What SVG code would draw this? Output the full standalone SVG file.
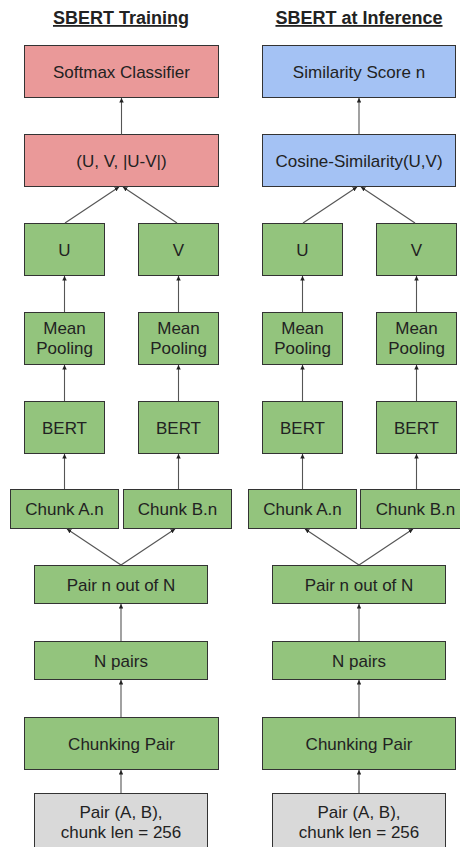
<svg xmlns="http://www.w3.org/2000/svg" width="460" height="847" viewBox="0 0 460 847">
<style>
.t{font-family:"Liberation Sans",Arial,sans-serif;font-size:17px;fill:#222;text-anchor:middle}
.h{font-family:"Liberation Sans",Arial,sans-serif;font-size:18px;font-weight:bold;fill:#222;text-anchor:middle;text-decoration:underline}
.r{fill:#ea9999;stroke:#333;stroke-width:1}
.b{fill:#a4c2f4;stroke:#333;stroke-width:1}
.g{fill:#93c47d;stroke:#333;stroke-width:1}
.y{fill:#d9d9d9;stroke:#333;stroke-width:1}
.c line{stroke:#555;stroke-width:1.1;marker-end:url(#a)}
</style>
<defs>
<marker id="a" viewBox="0 0 10 10" refX="10" refY="5" markerWidth="4.5" markerHeight="4.5" markerUnits="userSpaceOnUse" orient="auto">
<path d="M0,0 L10,5 L0,10 z" fill="#222"/>
</marker>
</defs>
<rect width="460" height="847" fill="#fff"/>
<text class="h" x="121" y="24">SBERT Training</text>
<text class="h" x="359" y="24">SBERT at Inference</text>

<g id="L_softmax"><rect class="r" x="24.5" y="45.5" width="194" height="52"/><text class="t" x="121.5" y="78">Softmax Classifier</text></g>
<g id="L_concat"><rect class="r" x="24.5" y="134.5" width="194" height="52"/><text class="t" x="121.5" y="167">(U, V, |U-V|)</text></g>
<g id="L_U"><rect class="g" x="24.5" y="223.5" width="80" height="52"/><text class="t" x="64.5" y="256">U</text></g>
<g id="L_V"><rect class="g" x="138.5" y="223.5" width="80" height="52"/><text class="t" x="178.5" y="256">V</text></g>
<g id="L_MPA"><rect class="g" x="24.5" y="312.5" width="80" height="52"/><text class="t" x="64.5" y="334">Mean</text><text class="t" x="64.5" y="354">Pooling</text></g>
<g id="L_MPB"><rect class="g" x="138.5" y="312.5" width="80" height="52"/><text class="t" x="178.5" y="334">Mean</text><text class="t" x="178.5" y="354">Pooling</text></g>
<g id="L_BERTA"><rect class="g" x="24.5" y="401.5" width="80" height="52"/><text class="t" x="64.5" y="434">BERT</text></g>
<g id="L_BERTB"><rect class="g" x="138.5" y="401.5" width="80" height="52"/><text class="t" x="178.5" y="434">BERT</text></g>
<g id="L_CA"><rect class="g" x="10.5" y="489.5" width="108" height="39"/><text class="t" x="64.5" y="515">Chunk A.n</text></g>
<g id="L_CB"><rect class="g" x="123.5" y="489.5" width="108" height="39"/><text class="t" x="177.5" y="515">Chunk B.n</text></g>
<g id="L_pairn"><rect class="g" x="34.5" y="565.5" width="173" height="38"/><text class="t" x="121" y="591">Pair n out of N</text></g>
<g id="L_npairs"><rect class="g" x="34.5" y="641.5" width="173" height="38"/><text class="t" x="121" y="667">N pairs</text></g>
<g id="L_chunking"><rect class="g" x="24.5" y="717.5" width="194" height="52"/><text class="t" x="121.5" y="750">Chunking Pair</text></g>
<g id="L_input"><rect class="y" x="34.5" y="793.5" width="173" height="60"/><text class="t" x="121" y="818">Pair (A, B),</text><text class="t" x="121" y="838">chunk len = 256</text></g>

<g id="R_sim"><rect class="b" x="262.5" y="45.5" width="193" height="52"/><text class="t" x="359" y="78">Similarity Score n</text></g>
<g id="R_cos"><rect class="b" x="262.5" y="134.5" width="193" height="52"/><text class="t" x="359" y="167">Cosine-Similarity(U,V)</text></g>
<g id="R_U"><rect class="g" x="262.5" y="223.5" width="80" height="52"/><text class="t" x="302.5" y="256">U</text></g>
<g id="R_V"><rect class="g" x="376.5" y="223.5" width="80" height="52"/><text class="t" x="416.5" y="256">V</text></g>
<g id="R_MPA"><rect class="g" x="262.5" y="312.5" width="80" height="52"/><text class="t" x="302.5" y="334">Mean</text><text class="t" x="302.5" y="354">Pooling</text></g>
<g id="R_MPB"><rect class="g" x="376.5" y="312.5" width="80" height="52"/><text class="t" x="416.5" y="334">Mean</text><text class="t" x="416.5" y="354">Pooling</text></g>
<g id="R_BERTA"><rect class="g" x="262.5" y="401.5" width="80" height="52"/><text class="t" x="302.5" y="434">BERT</text></g>
<g id="R_BERTB"><rect class="g" x="376.5" y="401.5" width="80" height="52"/><text class="t" x="416.5" y="434">BERT</text></g>
<g id="R_CA"><rect class="g" x="248.5" y="489.5" width="108" height="39"/><text class="t" x="302.5" y="515">Chunk A.n</text></g>
<g id="R_CB"><rect class="g" x="360.5" y="489.5" width="110" height="39"/><text class="t" x="415.5" y="515">Chunk B.n</text></g>
<g id="R_pairn"><rect class="g" x="272.5" y="565.5" width="173" height="38"/><text class="t" x="359" y="591">Pair n out of N</text></g>
<g id="R_npairs"><rect class="g" x="272.5" y="641.5" width="173" height="38"/><text class="t" x="359" y="667">N pairs</text></g>
<g id="R_chunking"><rect class="g" x="262.5" y="717.5" width="193" height="52"/><text class="t" x="359" y="750">Chunking Pair</text></g>
<g id="R_input"><rect class="y" x="272.5" y="793.5" width="173" height="60"/><text class="t" x="359" y="818">Pair (A, B),</text><text class="t" x="359" y="838">chunk len = 256</text></g>

<g id="connectors" class="c">
<line x1="121.5" y1="134.5" x2="121.5" y2="98"/>
<line x1="65" y1="223" x2="119" y2="187"/>
<line x1="177" y1="223" x2="123" y2="187"/>
<line x1="64.5" y1="312" x2="64.5" y2="276"/>
<line x1="178.5" y1="312" x2="178.5" y2="276"/>
<line x1="64.5" y1="401" x2="64.5" y2="365"/>
<line x1="178.5" y1="401" x2="178.5" y2="365"/>
<line x1="64.5" y1="489" x2="64.5" y2="454"/>
<line x1="178.5" y1="489" x2="178.5" y2="454"/>
<line x1="121" y1="565" x2="67" y2="529"/>
<line x1="121" y1="565" x2="175" y2="529"/>
<line x1="121" y1="641" x2="121" y2="604"/>
<line x1="121" y1="717" x2="121" y2="680"/>
<line x1="121" y1="793" x2="121" y2="770"/>

<line x1="359" y1="134.5" x2="359" y2="98"/>
<line x1="303" y1="223" x2="357" y2="187"/>
<line x1="415" y1="223" x2="361" y2="187"/>
<line x1="302.5" y1="312" x2="302.5" y2="276"/>
<line x1="416.5" y1="312" x2="416.5" y2="276"/>
<line x1="302.5" y1="401" x2="302.5" y2="365"/>
<line x1="416.5" y1="401" x2="416.5" y2="365"/>
<line x1="302.5" y1="489" x2="302.5" y2="454"/>
<line x1="416.5" y1="489" x2="416.5" y2="454"/>
<line x1="359" y1="565" x2="305" y2="529"/>
<line x1="359" y1="565" x2="413" y2="529"/>
<line x1="359" y1="641" x2="359" y2="604"/>
<line x1="359" y1="717" x2="359" y2="680"/>
<line x1="359" y1="793" x2="359" y2="770"/>
</g>
</svg>
